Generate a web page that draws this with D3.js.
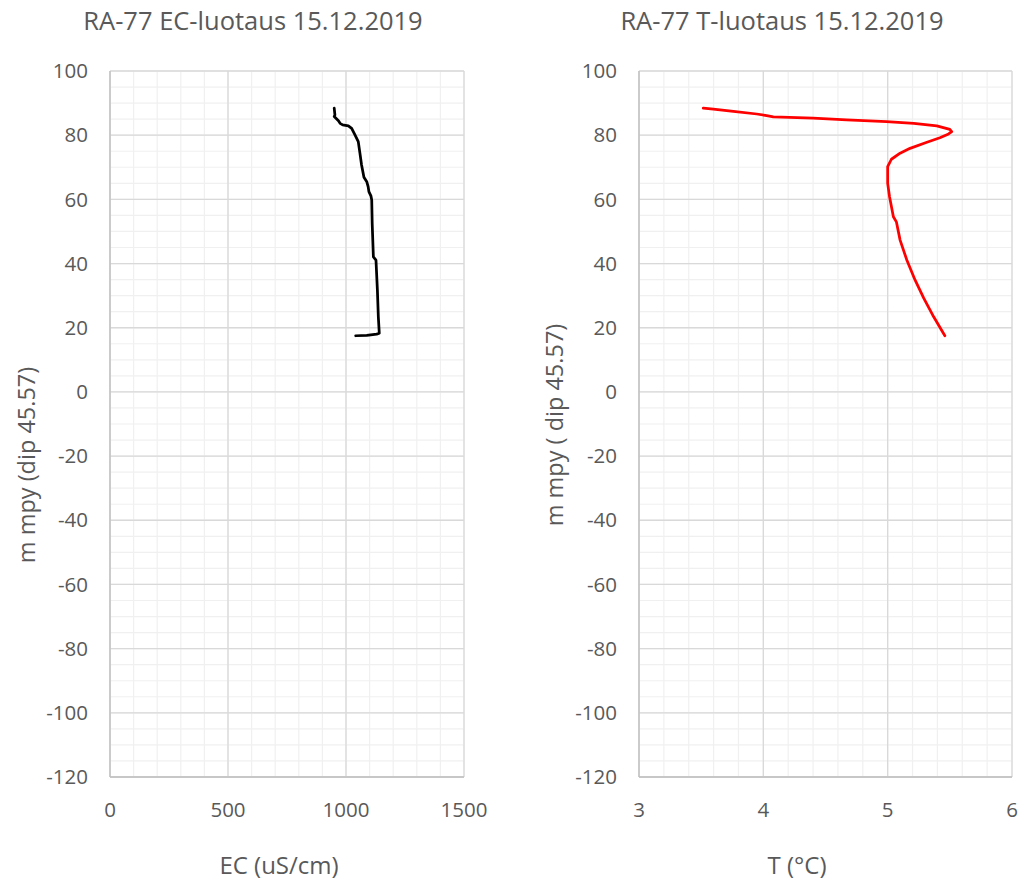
<!DOCTYPE html>
<html>
<head>
<meta charset="utf-8">
<script src="https://cdn.jsdelivr.net/npm/d3@7"></script>
<style>
  html, body { margin: 0; padding: 0; background: #fff; }
  svg text { font-family: "Open Sans", "Noto Sans", sans-serif; fill: #595959; }
</style>
</head>
<body>
<svg id="chart" width="1025" height="885"></svg>
<script>
// ---- Data ----
const ecDepth = [88.4, 86.3, 85.8, 84.5, 83.7, 83.2, 82.9, 82.1, 80.1, 78.0, 74.4, 70.7, 66.9, 65.5, 63.9, 62.4, 61.0, 59.8, 52.5, 42.1, 41.1, 31.8, 23.4, 18.3, 18.0, 17.6, 17.5];
const ecValue = [950, 953, 950, 968, 975, 986, 1010, 1024, 1038, 1052, 1059, 1066, 1076, 1088, 1094, 1097, 1106, 1109, 1111, 1116, 1127, 1133, 1137, 1141, 1130, 1088, 1041];

const tDepth = [88.4, 88.1, 87.4, 86.6, 86.1, 85.7, 85.3, 84.8, 84.2, 83.7, 82.9, 81.8, 81.1, 80.4, 79.2, 77.7, 75.9, 74.4, 72.5, 70.2, 65.0, 60.8, 54.6, 53.0, 47.3, 41.1, 34.9, 29.2, 23.4, 17.5];
const tValue = [3.517, 3.598, 3.759, 3.947, 4.027, 4.08, 4.40, 4.67, 4.99, 5.21, 5.395, 5.50, 5.515, 5.49, 5.42, 5.31, 5.18, 5.10, 5.03, 5.0, 5.0, 5.015, 5.046, 5.07, 5.10, 5.154, 5.22, 5.29, 5.37, 5.46];

const yTicks = [-120, -100, -80, -60, -40, -20, 0, 20, 40, 60, 80, 100];
const ecTicks = [0, 500, 1000, 1500];
const tTicks = [3, 4, 5, 6];

const titles = ["RA-77 EC-luotaus 15.12.2019", "RA-77 T-luotaus 15.12.2019"];
const xTitles = ["EC (uS/cm)", "T (°C)"];
const yTitles = ["m mpy (dip 45.57)", "m mpy ( dip 45.57)"];

// ---- Layout ----
const svg = d3.select("#chart");
const plotTop = 71, plotBottom = 777;

const panels = [
  { left: 110, right: 464, xDomain: [0, 1500], xTicks: ecTicks, minorStep: 100,
    xs: ecValue, ys: ecDepth, color: "#000000", titleX: 253, xTitleX: 279, yTitleX: 27, yTitleY: 465 },
  { left: 639, right: 1012, xDomain: [3, 6], xTicks: tTicks, minorStep: 0.2,
    xs: tValue, ys: tDepth, color: "#ff0000", titleX: 782, xTitleX: 797, yTitleX: 555, yTitleY: 425 }
];

panels.forEach((p, i) => {
  const x = d3.scaleLinear().domain(p.xDomain).range([p.left, p.right]);
  const y = d3.scaleLinear().domain([-120, 100]).range([plotBottom, plotTop]);
  const g = svg.append("g");

  const nMinor = Math.round((p.xDomain[1] - p.xDomain[0]) / p.minorStep);
  const minorX = d3.range(nMinor + 1).map(k => p.xDomain[0] + k * p.minorStep);
  const minorY = d3.range(45).map(k => -120 + k * 5);
  g.selectAll(".mx").data(minorX).enter().append("line")
    .attr("x1", d => x(d)).attr("x2", d => x(d)).attr("y1", plotTop).attr("y2", plotBottom)
    .attr("stroke", "#f0f0f0").attr("stroke-width", 1.2);
  g.selectAll(".my").data(minorY).enter().append("line")
    .attr("x1", p.left).attr("x2", p.right).attr("y1", d => y(d)).attr("y2", d => y(d))
    .attr("stroke", "#f0f0f0").attr("stroke-width", 1.2);

  g.selectAll(".Mx").data(p.xTicks).enter().append("line")
    .attr("x1", d => x(d)).attr("x2", d => x(d)).attr("y1", plotTop).attr("y2", plotBottom)
    .attr("stroke", "#d9d9d9").attr("stroke-width", 1.3);
  g.selectAll(".My").data(yTicks).enter().append("line")
    .attr("x1", p.left).attr("x2", p.right).attr("y1", d => y(d)).attr("y2", d => y(d))
    .attr("stroke", "#d9d9d9").attr("stroke-width", 1.3);

  g.append("line").attr("x1", p.left).attr("x2", p.left).attr("y1", plotTop).attr("y2", plotBottom)
    .attr("stroke", "#bfbfbf").attr("stroke-width", 1.3);
  g.append("line").attr("x1", p.left).attr("x2", p.right).attr("y1", plotBottom).attr("y2", plotBottom)
    .attr("stroke", "#bfbfbf").attr("stroke-width", 1.3);

  g.selectAll(".yl").data(yTicks).enter().append("text")
    .attr("x", p.left - 22).attr("y", d => y(d)).attr("dy", "0.35em")
    .attr("text-anchor", "end").style("font-size", "20.5px").text(d => d);
  g.selectAll(".xl").data(p.xTicks).enter().append("text")
    .attr("x", d => x(d)).attr("y", 817)
    .attr("text-anchor", "middle").style("font-size", "20.5px").text(d => d);

  g.append("text").attr("x", p.titleX).attr("y", 30).attr("text-anchor", "middle")
    .style("font-size", "25.5px").text(titles[i]);
  g.append("text").attr("x", p.xTitleX).attr("y", 874).attr("text-anchor", "middle")
    .style("font-size", "24px").text(xTitles[i]);
  g.append("text").attr("transform", `translate(${p.yTitleX},${p.yTitleY}) rotate(-90)`)
    .attr("text-anchor", "middle").attr("dy", "0.35em")
    .style("font-size", "23.5px").text(yTitles[i]);

  const pts = p.xs.map((v, k) => [v, p.ys[k]]);
  g.append("path").datum(pts)
    .attr("d", d3.line().x(d => x(d[0])).y(d => y(d[1])))
    .attr("fill", "none").attr("stroke", p.color).attr("stroke-width", 2.75)
    .attr("stroke-linejoin", "round").attr("stroke-linecap", "round");
});
</script>
</body>
</html>
